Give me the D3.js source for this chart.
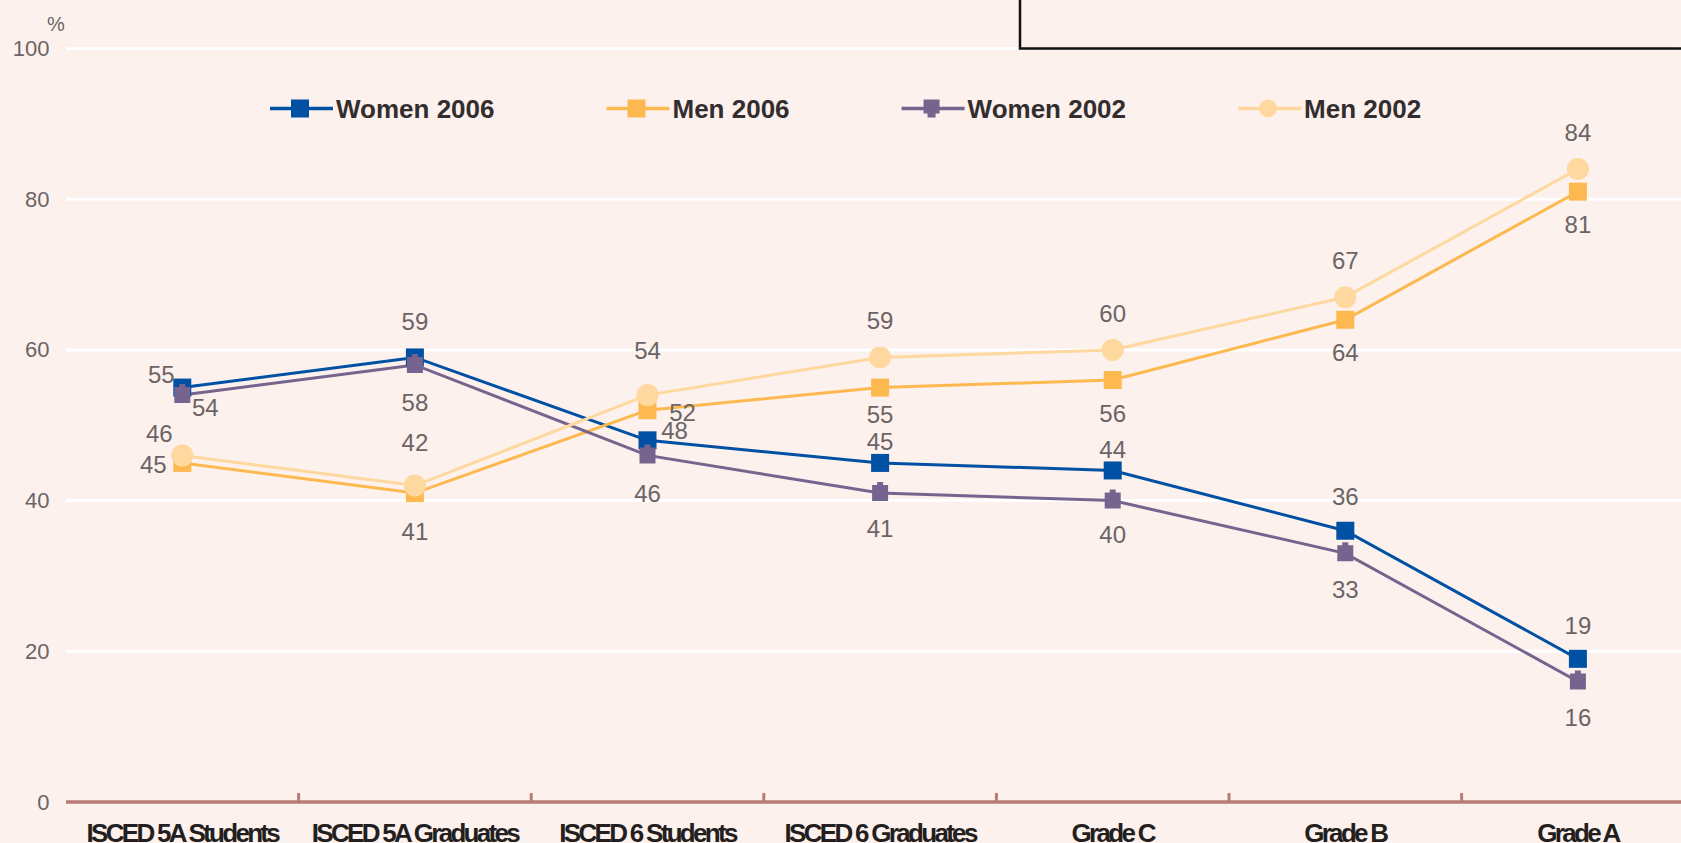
<!DOCTYPE html>
<html lang="en">
<head>
<meta charset="UTF-8">
<title>Women and men in academia</title>
<script src="https://d3js.org/d3.v7.min.js"></script>
<style>
	body { margin: 0; background: #fcf1ec; overflow: hidden; }
	svg { display: block; }
	.tick-label { font: 22px "Liberation Sans", Arial, sans-serif; fill: #6b6466; }
	.cat-label { font: bold 26px "Liberation Sans", Arial, sans-serif; fill: #231f20; letter-spacing: -2.7px; }
	.legend-label { font: bold 26px "Liberation Sans", Arial, sans-serif; fill: #332d2f; }
	.value-label { font: 24px "Liberation Sans", Arial, sans-serif; fill: #6b6466; }
</style>
</head>
<body>
<div id="chart"></div>
<script>
// data
const categories = ["ISCED 5A Students", "ISCED 5A Graduates", "ISCED 6 Students", "ISCED 6 Graduates", "Grade C", "Grade B", "Grade A"];
const women2006 = [55, 59, 48, 45, 44, 36, 19];
const men2006 = [45, 41, 52, 55, 56, 64, 81];
const women2002 = [54, 58, 46, 41, 40, 33, 16];
const men2002 = [46, 42, 54, 59, 60, 67, 84];
const yTicks = [0, 20, 40, 60, 80, 100];

// where each value label sits relative to its point [dx, dy]
const women2006Labels = [[-21, -13], [0, -36], [27, -10], [0, -21], [0, -21], [0, -34], [0, -33]];
const men2006Labels = [[-29, 2], [0, 38], [35, 2], [0, 27], [0, 33], [0, 33], [0, 33]];
const women2002Labels = [[23, 12], [0, 38], [0, 38], [0, 35], [0, 34], [0, 36], [0, 36]];
const men2002Labels = [[-23, -22], [0, -43], [0, -45], [0, -37], [0, -36], [0, -37], [0, -37]];

const width = 1681, height = 843;
const bg = "#fcf1ec";

const series = [
	{ name: "Women 2006", values: women2006, labels: women2006Labels, color: "#0050a4", marker: "square" },
	{ name: "Men 2006", values: men2006, labels: men2006Labels, color: "#fdb94f", marker: "square" },
	{ name: "Women 2002", values: women2002, labels: women2002Labels, color: "#76648f", marker: "shield" },
	{ name: "Men 2002", values: men2002, labels: men2002Labels, color: "#fed89e", marker: "circle" }
];

const svg = d3.select("#chart").append("svg")
	.attr("width", width)
	.attr("height", height);

svg.append("rect").attr("width", width).attr("height", height).attr("fill", bg);

const x = d3.scaleBand()
	.domain(categories)
	.range([66, 66 + 7 * 232.6]);

const y = d3.scaleLinear()
	.domain([0, 100])
	.range([802, 48.5]);

const cx = c => x(c) + x.bandwidth() / 2;

// white gridlines
svg.append("g")
	.selectAll("line")
	.data(yTicks.filter(d => d > 0))
	.join("line")
	.attr("x1", 66)
	.attr("x2", width)
	.attr("y1", d => y(d))
	.attr("y2", d => y(d))
	.attr("stroke", "#fff")
	.attr("stroke-width", 3);

// box in the top right corner
svg.append("path")
	.attr("d", `M1020,0 V${y(100)} H${width + 2}`)
	.attr("fill", bg)
	.attr("stroke", "#111")
	.attr("stroke-width", 2.5);

// y axis labels
const yAxis = svg.append("g")
	.attr("transform", "translate(66,0)")
	.call(d3.axisLeft(y).tickValues(yTicks).tickSize(0).tickPadding(16.5));
yAxis.select(".domain").remove();
yAxis.selectAll("text").attr("class", "tick-label").attr("font-family", null).attr("font-size", null).attr("fill", null);

svg.append("text")
	.attr("class", "tick-label")
	.attr("x", 56)
	.attr("y", 24)
	.attr("text-anchor", "middle")
	.attr("dominant-baseline", "central")
	.style("font-size", "20px")
	.text("%");

// x axis line with ticks between categories
svg.append("line")
	.attr("x1", 66).attr("x2", width)
	.attr("y1", y(0)).attr("y2", y(0))
	.attr("stroke", "#b97b78")
	.attr("stroke-width", 3.5);

svg.append("g")
	.selectAll("line")
	.data(categories.slice(1))
	.join("line")
	.attr("x1", d => x(d)).attr("x2", d => x(d))
	.attr("y1", y(0) - 9).attr("y2", y(0))
	.attr("stroke", "#b97b78")
	.attr("stroke-width", 3);

const xAxis = svg.append("g")
	.attr("transform", `translate(0,${y(0)})`)
	.call(d3.axisBottom(x).tickSize(0).tickPadding(22));
xAxis.select(".domain").remove();
xAxis.selectAll("text").attr("class", "cat-label").attr("font-family", null).attr("font-size", null).attr("fill", null);

// markers
function drawMarker(g, type, color, legend) {
	if (type === "square") {
		g.append("rect").attr("x", -9).attr("y", -9).attr("width", 18).attr("height", 18).attr("fill", color);
	} else if (type === "circle") {
		g.append("circle").attr("r", legend ? 9 : 11).attr("fill", color);
	} else {
		const p = legend
			? "M-8,-9 H8 V5 H4 V9 H-4 V5 H-8 Z"
			: "M-3,-11 H3 V-8 H8 V8 H-8 V-8 H-3 Z";
		g.append("path").attr("d", p).attr("fill", color);
	}
}

const line = d3.line()
	.x((d, i) => cx(categories[i]))
	.y(d => y(d));

series.forEach(s => {
	svg.append("path")
		.datum(s.values)
		.attr("d", line)
		.attr("fill", "none")
		.attr("stroke", s.color)
		.attr("stroke-width", 3);
});

series.forEach(s => {
	s.values.forEach((v, i) => {
		const g = svg.append("g").attr("transform", `translate(${cx(categories[i])},${y(v)})`);
		drawMarker(g, s.marker, s.color, false);
	});
});

// value labels
series.forEach(s => {
	svg.append("g")
		.selectAll("text")
		.data(s.values)
		.join("text")
		.attr("class", "value-label")
		.attr("x", (d, i) => cx(categories[i]) + s.labels[i][0])
		.attr("y", (d, i) => y(d) + s.labels[i][1])
		.attr("text-anchor", "middle")
		.attr("dominant-baseline", "central")
		.text(d => d);
});

// legend
let lx = 270;
const ly = 108.5;
series.forEach(s => {
	const g = svg.append("g").attr("transform", `translate(${lx},${ly})`);
	g.append("line").attr("x1", 0).attr("x2", 63).attr("stroke", s.color).attr("stroke-width", 3.5);
	const m = g.append("g").attr("transform", "translate(30,0)");
	drawMarker(m, s.marker, s.color, true);
	const t = g.append("text")
		.attr("class", "legend-label")
		.attr("x", 66)
		.attr("dominant-baseline", "central")
		.text(s.name);
	lx += 66 + t.node().getComputedTextLength() + 112;
});
</script>
</body>
</html>
